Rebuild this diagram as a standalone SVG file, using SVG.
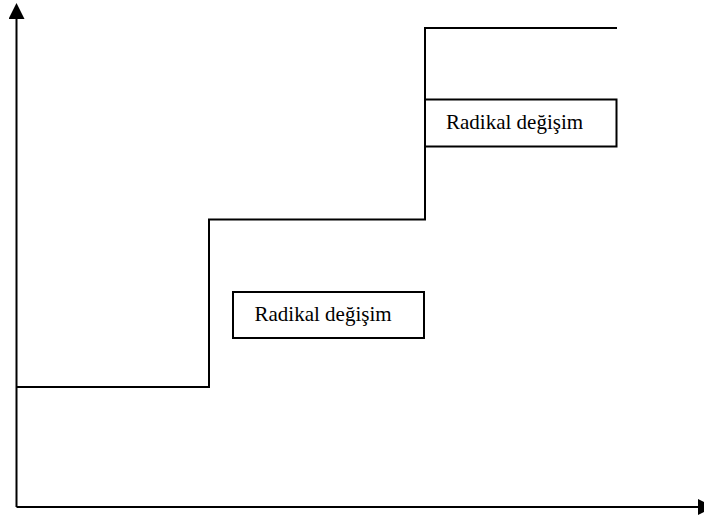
<svg xmlns="http://www.w3.org/2000/svg" width="704" height="521" viewBox="0 0 704 521">
  <style>
    .ln { fill: none; stroke: #000; stroke-width: 2; }
    .box { fill: #fff; stroke: #000; stroke-width: 2; }
    .lbl { font-family: "Liberation Serif", "Times New Roman", serif; font-size: 21px; fill: #000; }
  </style>
  <defs>
    <marker id="arrow" viewBox="0 0 16 16" refX="0" refY="8" markerWidth="16" markerHeight="16" markerUnits="userSpaceOnUse" orient="auto">
      <path d="M0,0 L16,8 L0,16 Z" fill="#000"/>
    </marker>
  </defs>
  <rect width="704" height="521" fill="#fff"/>

  <!-- axes and step line -->
  <g id="connectors">
    <line class="ln" x1="16.5" y1="507" x2="16.5" y2="19" marker-end="url(#arrow)"/>
    <line class="ln" x1="16.5" y1="507" x2="698" y2="507" marker-end="url(#arrow)"/>
    <polyline class="ln" points="16.5,387 209,387 209,219.5 425,219.5 425,28 617,28"/>
  </g>

  <g id="change-upper">
    <rect class="box" x="425" y="99.5" width="191.5" height="47"/>
    <text class="lbl" x="446" y="128.5">Radikal değişim</text>
  </g>

  <g id="change-lower">
    <rect class="box" x="233" y="292" width="191" height="46"/>
    <text class="lbl" x="254.5" y="321">Radikal değişim</text>
  </g>
</svg>
